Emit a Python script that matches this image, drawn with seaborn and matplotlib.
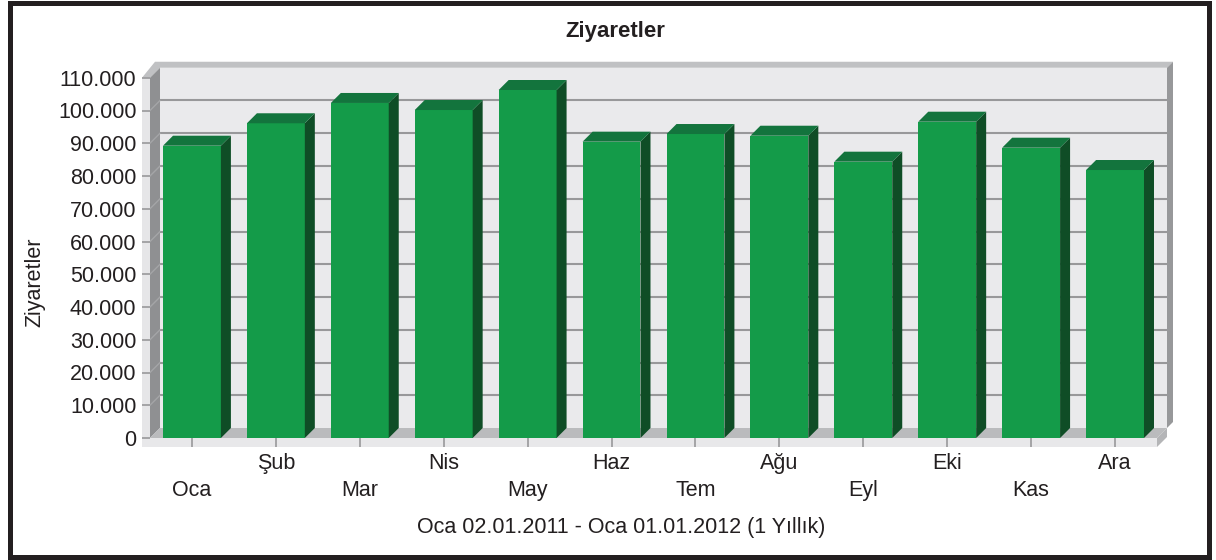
import pandas as pd
import seaborn as sns
import matplotlib.pyplot as plt
from matplotlib.patches import Polygon, Rectangle
from matplotlib.ticker import FuncFormatter

# Data
months = ["Oca", "Şub", "Mar", "Nis", "May", "Haz", "Tem", "Ağu", "Eyl", "Eki", "Kas", "Ara"]
visits = [89250, 96100, 102300, 100150, 106260, 90480, 92820, 92300, 84370, 96580, 88640, 81830]
y_ticks = list(range(0, 110001, 10000))
title = "Ziyaretler"
y_label = "Ziyaretler"
footer = "Oca 02.01.2011 - Oca 01.01.2012 (1 Yıllık)"

plt.rcParams['font.family'] = ['Liberation Sans', 'DejaVu Sans']
txt = "#231f20"
fs = 15.5

W, H = 1216, 560
fig = plt.figure(figsize=(W / 100, H / 100), dpi=100)

# front plane of the 3d box, in pixels
L, R, B, T = 150, 1157, 438, 77.75
ax = fig.add_axes([L / W, 1 - B / H, (R - L) / W, (B - T) / H])

df = pd.DataFrame({"Ay": months, "Ziyaret": visits})
sns.barplot(data=df, x="Ay", y="Ziyaret", color="#149b49", saturation=1,
            width=0.69, ax=ax, zorder=3)
bars = list(ax.patches)

ymax = y_ticks[-1]
ax.set_xlim(-0.5, len(months) - 0.5)
ax.set_ylim(0, ymax)
ax.patch.set_visible(False)
for s in ax.spines.values():
    s.set_visible(False)

ppx = (R - L) / len(months)
ppy = (B - T) / ymax
D = 10  # depth in px


def px(x, y, ox=0, oy=0):
    # data point moved by a pixel offset (oy goes up)
    return (x + ox / ppx, y + oy / ppy)


def poly(pts, color, z):
    ax.add_patch(Polygon(pts, closed=True, fc=color, ec="none", zorder=z, clip_on=False))


x0, x1 = -0.5, len(months) - 0.5

# back wall + grid
poly([px(x0, 0, D, D), px(x1, 0, D, D), px(x1, ymax, D, D), px(x0, ymax, D, D)], "#eaeaec", 0.1)
for v in y_ticks[1:-1]:
    ax.plot([px(x0, v, D, D)[0], px(x1, v, D, D)[0]], [px(0, v, 0, D)[1]] * 2,
            color="#98989a", lw=1.5, zorder=0.2, clip_on=False)
    ax.plot([x0, px(x0, v, D, D)[0]], [v, px(0, v, 0, D)[1]],
            color="#a4a5a7", lw=1, zorder=0.35, clip_on=False)
# top and right edge of the wall
poly([px(x0, ymax, -8, 0), px(x0, ymax), px(x0, ymax, D, D), px(x1, ymax, D, D),
      px(x1, ymax, D + 6, D + 6), px(x0, ymax, 5, D + 6)], "#c0c1c3", 0.3)
poly([px(x1, 0, D, D), px(x1, ymax, D, D), px(x1, ymax, D + 6, D + 6), px(x1, 0, D + 6, D + 6)],
     "#97989a", 0.3)
# left wall
poly([px(x0, 0), px(x0, ymax), px(x0, ymax, D, D), px(x0, 0, D, D)], "#8f9092", 0.3)
poly([px(x0, ymax, -8, 0), px(x0, ymax), px(x0, 0, 0, -9), px(x0, 0, -8, -9)], "#e6e6e8", 0.4)
# floor
poly([px(x0, 0), px(x1, 0), px(x1, 0, D, D), px(x0, 0, D, D)], "#babbbd", 0.4)
poly([px(x0, 0, -8, 0), px(x1, 0), px(x1, 0, 0, -9), px(x0, 0, -8, -9)], "#e8e8ea", 0.4)
poly([px(x1, 0), px(x1, 0, D, D), px(x1, 0, D, D - 9), px(x1, 0, 0, -9)], "#b4b5b7", 0.4)

# 3d faces of the bars
for b in bars:
    bx0 = b.get_x()
    bx1 = bx0 + b.get_width()
    v = b.get_height()
    poly([px(bx1, 0), px(bx1, v), px(bx1, v, D, D), px(bx1, 0, D, D)], "#0f4d26", 3)
    poly([px(bx0, v), px(bx1, v), px(bx1, v, D, D), px(bx0, v, D, D)], "#13743d", 3)

# ticks
ax.set_yticks(y_ticks)
ax.yaxis.set_major_formatter(FuncFormatter(lambda v, p: f"{int(v):,}".replace(",", ".")))
ax.tick_params(axis="y", length=5.8, width=1.2, color="#98989a", pad=4,
               labelsize=fs, labelcolor=txt)
ax.tick_params(axis="x", length=6.5, width=1.2, color="#98989a", labelbottom=False)
ax.set_xlabel("")
ax.set_ylabel("")

# staggered month labels
for i, m in enumerate(months):
    yy = -0.147 if i % 2 == 0 else -0.0694
    ax.text(i, yy, m, transform=ax.get_xaxis_transform(), ha="center", va="center",
            fontsize=fs, color=txt)

fig.text(615 / W, 1 - 32 / H, title, ha="center", va="center", fontsize=fs + 0.5,
         fontweight="bold", color=txt)
fig.text(35 / W, 1 - 282 / H, y_label, ha="center", va="center", rotation=90,
         fontsize=fs, color=txt)
fig.text(621 / W, 1 - 528 / H, footer, ha="center", va="center", fontsize=fs, color=txt)

# outer frame
fig.add_artist(Rectangle((9.5 / W, 3.5 / H), (1209 - 9.5) / W, (557 - 3.5) / H,
                         transform=fig.transFigure, fill=False, lw=5 * 0.72, ec=txt))

fig.savefig("out.png", dpi=100)
